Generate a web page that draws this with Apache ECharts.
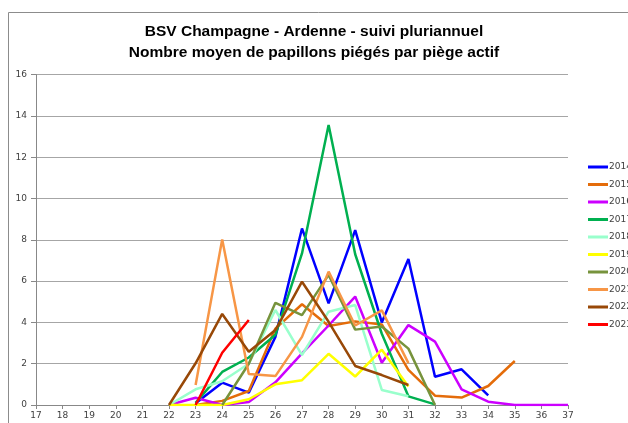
<!DOCTYPE html>
<html><head><meta charset="utf-8">
<script src="https://cdn.jsdelivr.net/npm/echarts@6/dist/echarts.min.js"></script>
<style>html,body{margin:0;padding:0;background:#fff}#c{width:628px;height:423px}</style>
</head><body><div id="c"></div>
<script>
var weeks = [22,23,24,25,26,27,28,29,30,31,32,33,34,35,36,37];
var s2014 = [null,0.08,1.08,0.6,3.3,8.55,4.92,8.47,4.0,7.07,1.37,1.73,0.47,null,null,null];
var s2015 = [null,0,0.2,0.68,3.7,4.88,3.83,4.05,3.9,1.7,0.45,0.36,0.92,2.13,null,null];
var s2016 = [0,0.35,0,0.15,1.1,2.5,3.85,5.25,2.05,3.87,3.07,0.76,0.16,0,0,0];
var s2017 = [null,0.1,1.6,2.3,3.4,7.34,13.56,7.3,3.45,0.42,0.03,null,null,null,null,null];
var s2018 = [0,0.76,1.15,2.0,4.6,2.42,4.52,4.84,0.73,0.42,null,null,null,null,null,null];
var s2019 = [0,0,0,0.28,1.0,1.2,2.48,1.38,2.68,0.9,null,null,null,null,null,null];
var s2020 = [null,null,0,2.0,4.95,4.35,6.3,3.65,3.8,2.73,0,null,null,null,null,null];
var s2021 = [null,0.97,8.02,1.5,1.4,3.3,6.46,3.85,4.58,2.03,null,null,null,null,null,null];
var s2022 = [0,2.02,4.41,2.58,3.63,5.97,4.03,1.89,1.45,0.97,null,null,null,null,null,null];
var s2023 = [null,0,2.53,4.12,null,null,null,null,null,null,null,null,null,null,null,null];
var years = ['2014','2015','2016','2017','2018','2019','2020','2021','2022','2023'];
var values = [s2014,s2015,s2016,s2017,s2018,s2019,s2020,s2021,s2022,s2023];
var colors = ['#0000FF','#E46C0A','#CC00FF','#00B050','#99FFCC','#FFFF00','#77933C','#F79646','#984807','#FF0000'];
var titleLines = ['BSV Champagne - Ardenne - suivi pluriannuel','Nombre moyen de papillons piégés par piège actif'];

var series = years.map(function(y,i){
  var d = [];
  weeks.forEach(function(w,j){ if (values[i][j] !== null) d.push([w, values[i][j]]); });
  return {name:y, type:'line', data:d, showSymbol:false, symbol:'none',
    lineStyle:{width:2.5,color:colors[i]}, itemStyle:{color:colors[i]}, z:2+i, animation:false};
});

var chart = echarts.init(document.getElementById('c'), null, {renderer:'canvas'});
chart.setOption({
  animation:false,
  graphic:[{type:'rect', shape:{x:8.5,y:12.5,width:700,height:500}, style:{fill:'none',stroke:'#8c8c8c',lineWidth:1}, silent:true}],
  title:{text:titleLines.join('\n'), left:'center', top:21, padding:0,
    textStyle:{fontFamily:'Liberation Sans', fontWeight:'bold', fontSize:15.5, lineHeight:21, color:'#000'}},
  legend:{orient:'vertical', left:588, top:161, padding:0, itemWidth:20, itemHeight:3, itemGap:5.5, icon:'rect',
    textStyle:{fontFamily:'DejaVu Sans', fontSize:9, lineHeight:12, color:'#404040', padding:[0,0,0,-4]}, data:years},
  grid:{left:36, right:60, top:74.6, bottom:18, containLabel:false},
  xAxis:{type:'value', min:17, max:37, interval:1,
    axisLine:{show:true, lineStyle:{color:'#888', width:1}},
    axisTick:{show:true, length:4, lineStyle:{color:'#888'}},
    axisLabel:{fontFamily:'DejaVu Sans', fontSize:9, color:'#404040', margin:6},
    splitLine:{show:false}},
  yAxis:{type:'value', min:0, max:16, interval:2,
    axisLine:{show:true, lineStyle:{color:'#888', width:1}},
    axisTick:{show:true, length:5, lineStyle:{color:'#888'}},
    axisLabel:{fontFamily:'DejaVu Sans', fontSize:9, color:'#404040', margin:9},
    splitLine:{show:true, lineStyle:{color:'#a6a6a6', width:1}}},
  series:series
});
</script></body></html>
